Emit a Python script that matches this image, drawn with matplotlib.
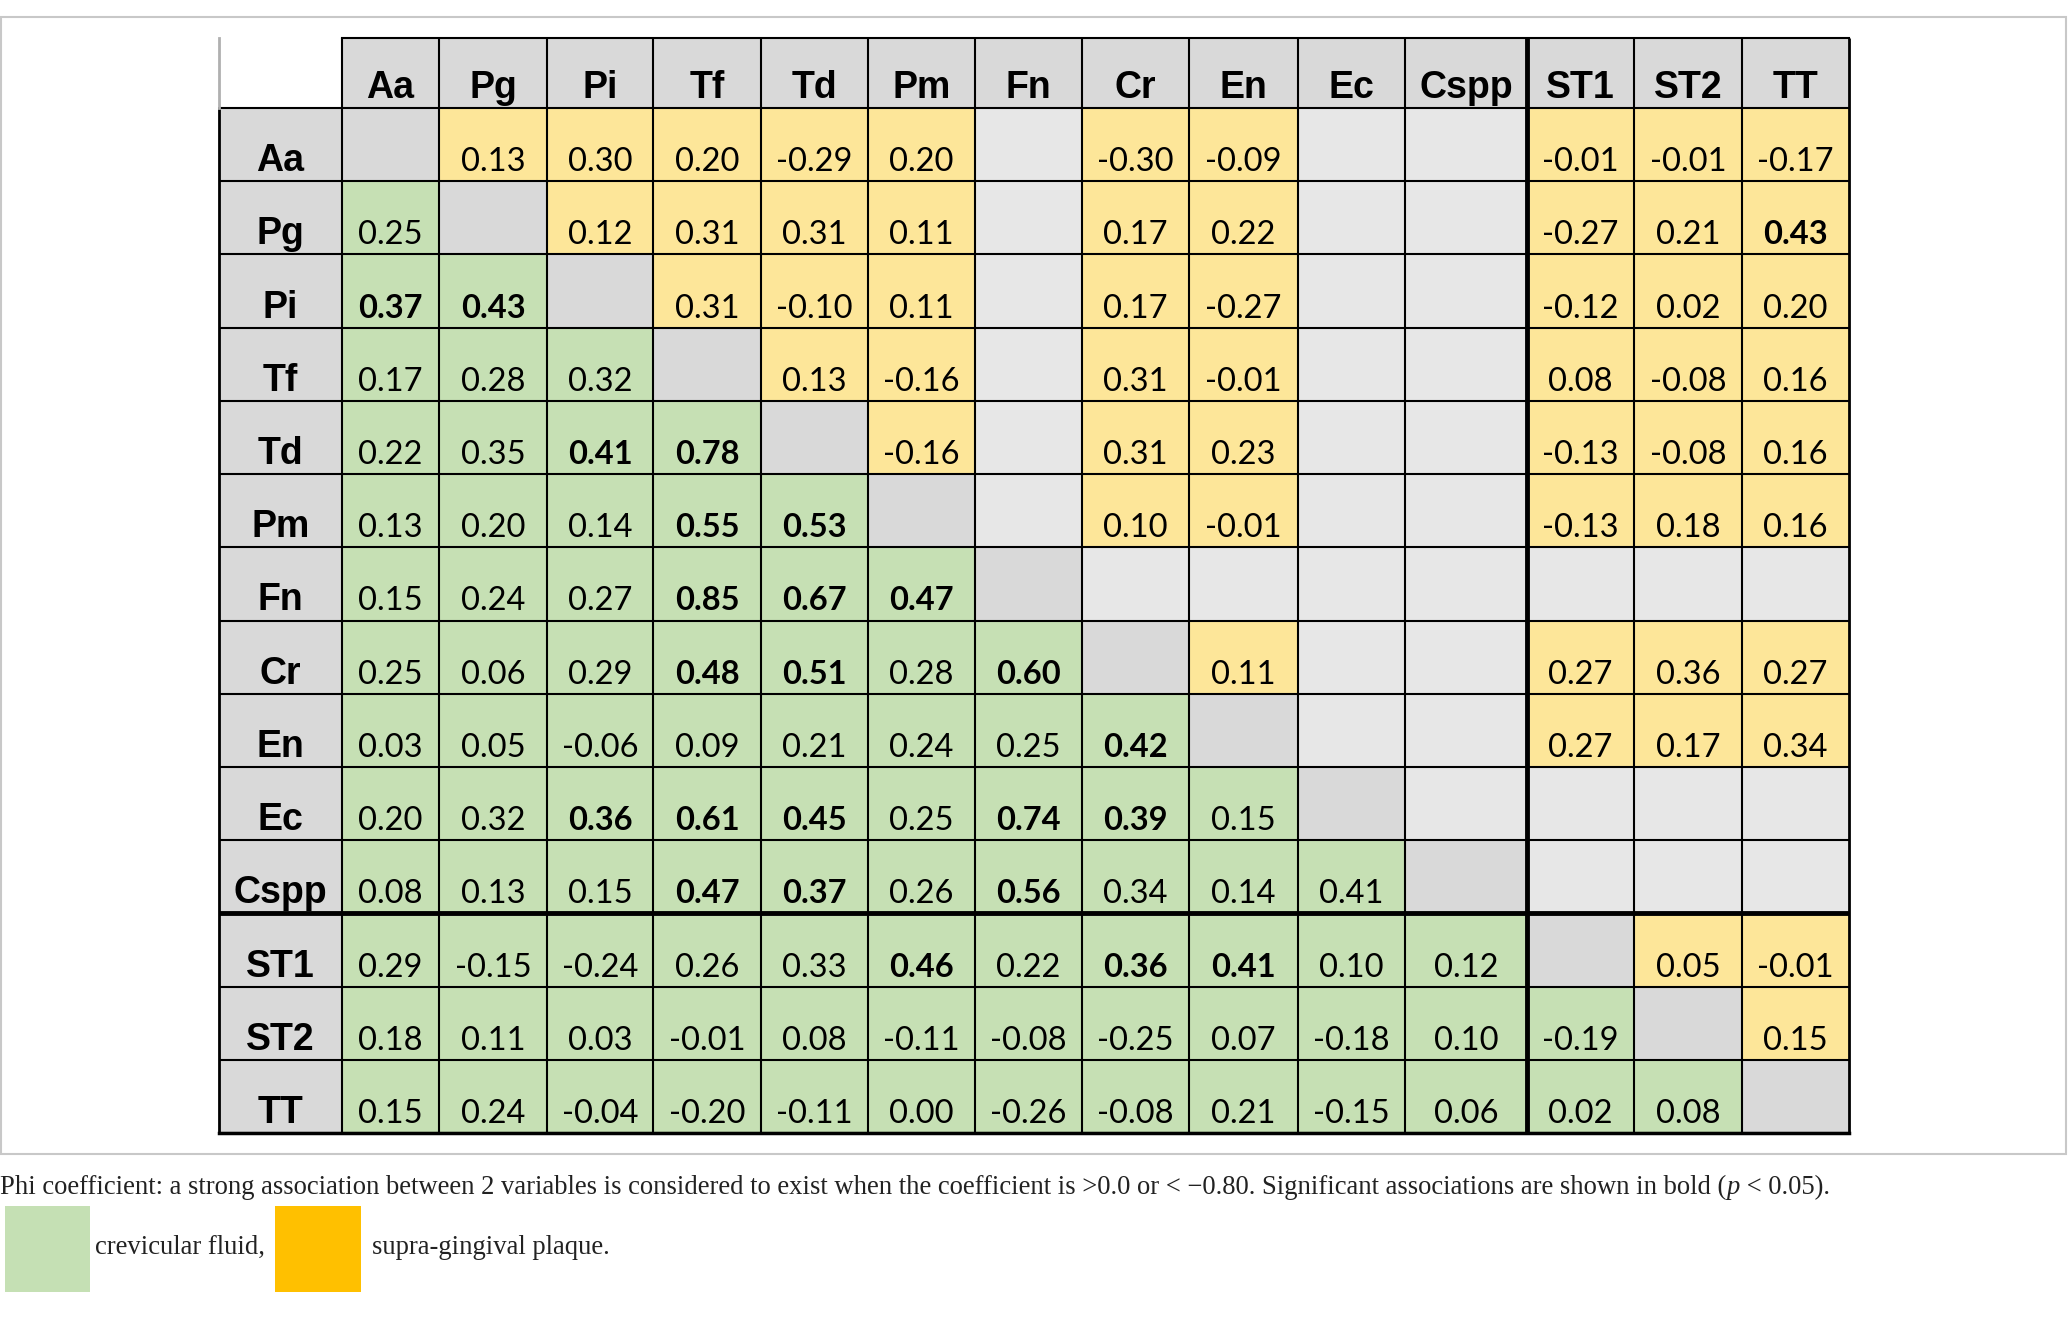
import matplotlib.pyplot as plt
from matplotlib.patches import Rectangle

# variables (row / column order)
labels = ["Aa", "Pg", "Pi", "Tf", "Td", "Pm", "Fn", "Cr", "En", "Ec", "Cspp", "ST1", "ST2", "TT"]

# lower triangle: crevicular fluid (row i, columns 0..i-1)
lower = [
    [],
    [0.25],
    [0.37, 0.43],
    [0.17, 0.28, 0.32],
    [0.22, 0.35, 0.41, 0.78],
    [0.13, 0.20, 0.14, 0.55, 0.53],
    [0.15, 0.24, 0.27, 0.85, 0.67, 0.47],
    [0.25, 0.06, 0.29, 0.48, 0.51, 0.28, 0.60],
    [0.03, 0.05, -0.06, 0.09, 0.21, 0.24, 0.25, 0.42],
    [0.20, 0.32, 0.36, 0.61, 0.45, 0.25, 0.74, 0.39, 0.15],
    [0.08, 0.13, 0.15, 0.47, 0.37, 0.26, 0.56, 0.34, 0.14, 0.41],
    [0.29, -0.15, -0.24, 0.26, 0.33, 0.46, 0.22, 0.36, 0.41, 0.10, 0.12],
    [0.18, 0.11, 0.03, -0.01, 0.08, -0.11, -0.08, -0.25, 0.07, -0.18, 0.10, -0.19],
    [0.15, 0.24, -0.04, -0.20, -0.11, 0.00, -0.26, -0.08, 0.21, -0.15, 0.06, 0.02, 0.08],
]

# upper triangle: supra-gingival plaque (row i, columns i+1..13), None = not tested
N = None
upper = [
    [0.13, 0.30, 0.20, -0.29, 0.20, N, -0.30, -0.09, N, N, -0.01, -0.01, -0.17],
    [0.12, 0.31, 0.31, 0.11, N, 0.17, 0.22, N, N, -0.27, 0.21, 0.43],
    [0.31, -0.10, 0.11, N, 0.17, -0.27, N, N, -0.12, 0.02, 0.20],
    [0.13, -0.16, N, 0.31, -0.01, N, N, 0.08, -0.08, 0.16],
    [-0.16, N, 0.31, 0.23, N, N, -0.13, -0.08, 0.16],
    [N, 0.10, -0.01, N, N, -0.13, 0.18, 0.16],
    [N, N, N, N, N, N, N],
    [0.11, N, N, 0.27, 0.36, 0.27],
    [N, N, 0.27, 0.17, 0.34],
    [N, N, N, N],
    [N, N, N],
    [0.05, -0.01],
    [0.15],
    [],
]

# significant cells (row, col) shown in bold
bold_cells = [
    (2, 0), (2, 1), (4, 2), (4, 3), (5, 3), (5, 4), (6, 3), (6, 4), (6, 5),
    (7, 3), (7, 4), (7, 6), (8, 7), (9, 2), (9, 3), (9, 4), (9, 6), (9, 7),
    (10, 3), (10, 4), (10, 6), (11, 5), (11, 7), (11, 8), (1, 13),
]

caption = ("Phi coefficient: a strong association between 2 variables is considered to exist "
           "when the coefficient is >0.0 or < \u22120.80. Significant associations are shown in bold (")
legend_labels = ["crevicular fluid,", "supra-gingival plaque."]

GREEN = "#c6e0b4"
YELLOW = "#fde699"
HEAD = "#d9d9d9"
EMPTY = "#e7e7e7"

col_edges = [219, 342, 439, 547, 653, 761, 868, 975, 1082, 1189, 1298, 1405, 1527, 1634, 1742, 1849]
head_top, head_bot, tab_bot = 38, 108, 1133
row_h = (tab_bot - head_bot) / len(labels)
row_edges = [head_bot + i * row_h for i in range(len(labels) + 1)]

fig = plt.figure(figsize=(20.68, 13.26), dpi=100)
ax = fig.add_axes([0, 0, 1, 1])
ax.set_xlim(0, 2068)
ax.set_ylim(1326, 0)
ax.axis("off")

# outer frame
ax.add_patch(Rectangle((1, 17), 2065, 1137, fill=False, ec="#c8c8c8", lw=1.5))

val_font = dict(family="Lato", fontsize=23.5, color="black")
lab_font = dict(family="Liberation Sans", fontsize=27, fontweight="bold", color="black")

# header row
for j, lab in enumerate(labels):
    x0, x1 = col_edges[j + 1], col_edges[j + 2]
    ax.add_patch(Rectangle((x0, head_top), x1 - x0, head_bot - head_top, fc=HEAD, ec="none"))
    ax.text((x0 + x1) / 2, head_bot - 10, lab, ha="center", va="baseline", **lab_font)

for i, lab in enumerate(labels):
    y0, y1 = row_edges[i], row_edges[i + 1]
    ax.add_patch(Rectangle((col_edges[0], y0), col_edges[1] - col_edges[0], y1 - y0, fc=HEAD, ec="none"))
    ax.text((col_edges[0] + col_edges[1]) / 2, y1 - 10, lab, ha="center", va="baseline", **lab_font)
    for j in range(len(labels)):
        x0, x1 = col_edges[j + 1], col_edges[j + 2]
        if j < i:
            v, fc = lower[i][j], GREEN
        elif j > i:
            v = upper[i][j - i - 1]
            fc = YELLOW if v is not None else EMPTY
        else:
            v, fc = None, HEAD
        ax.add_patch(Rectangle((x0, y0), x1 - x0, y1 - y0, fc=fc, ec="none"))
        if v is not None:
            w = "bold" if (i, j) in bold_cells else "normal"
            ax.text((x0 + x1) / 2, y1 - 10, f"{v:.2f}", ha="center", va="baseline",
                    fontweight=w, **val_font)

# grid lines
for k, y in enumerate(row_edges):
    lw = 3.5 if k == 11 else 1.5
    ax.plot([col_edges[0], col_edges[-1]], [y, y], color="black", lw=lw, solid_capstyle="butt")
ax.plot([col_edges[1], col_edges[-1]], [head_top, head_top], color="black", lw=1.5)
ax.plot([col_edges[0], col_edges[-1]], [tab_bot, tab_bot], color="black", lw=2.5)
for k, x in enumerate(col_edges):
    if k == 0:
        ax.plot([x, x], [head_bot, tab_bot], color="black", lw=2)
        ax.plot([x, x], [head_top, head_bot], color="#b0b0b0", lw=2)
        continue
    lw = 3.5 if k == 12 else 1.5
    if k == len(col_edges) - 1:
        lw = 2
    ax.plot([x, x], [head_top, tab_bot], color="black", lw=lw, solid_capstyle="butt")

# caption below the frame
cap_font = dict(family="Liberation Serif", fontsize=19.2, color="#222222", va="baseline")
fig.canvas.draw()
r = fig.canvas.get_renderer()
inv = ax.transData.inverted()
x = 0
for part, style in [(caption, "normal"), ("p", "italic"), (" < 0.05).", "normal")]:
    t = ax.text(x, 1194, part, style=style, **cap_font)
    bb = t.get_window_extent(r)
    x = inv.transform((bb.x1, bb.y0))[0]

# legend swatches
ax.add_patch(Rectangle((5, 1206), 85, 86, fc="#c5e0b4", ec="none"))
ax.text(95, 1254, legend_labels[0], **cap_font)
ax.add_patch(Rectangle((275, 1206), 86, 86, fc="#ffc000", ec="none"))
ax.text(372, 1254, legend_labels[1], **cap_font)

fig.savefig("out.png", dpi=100)
